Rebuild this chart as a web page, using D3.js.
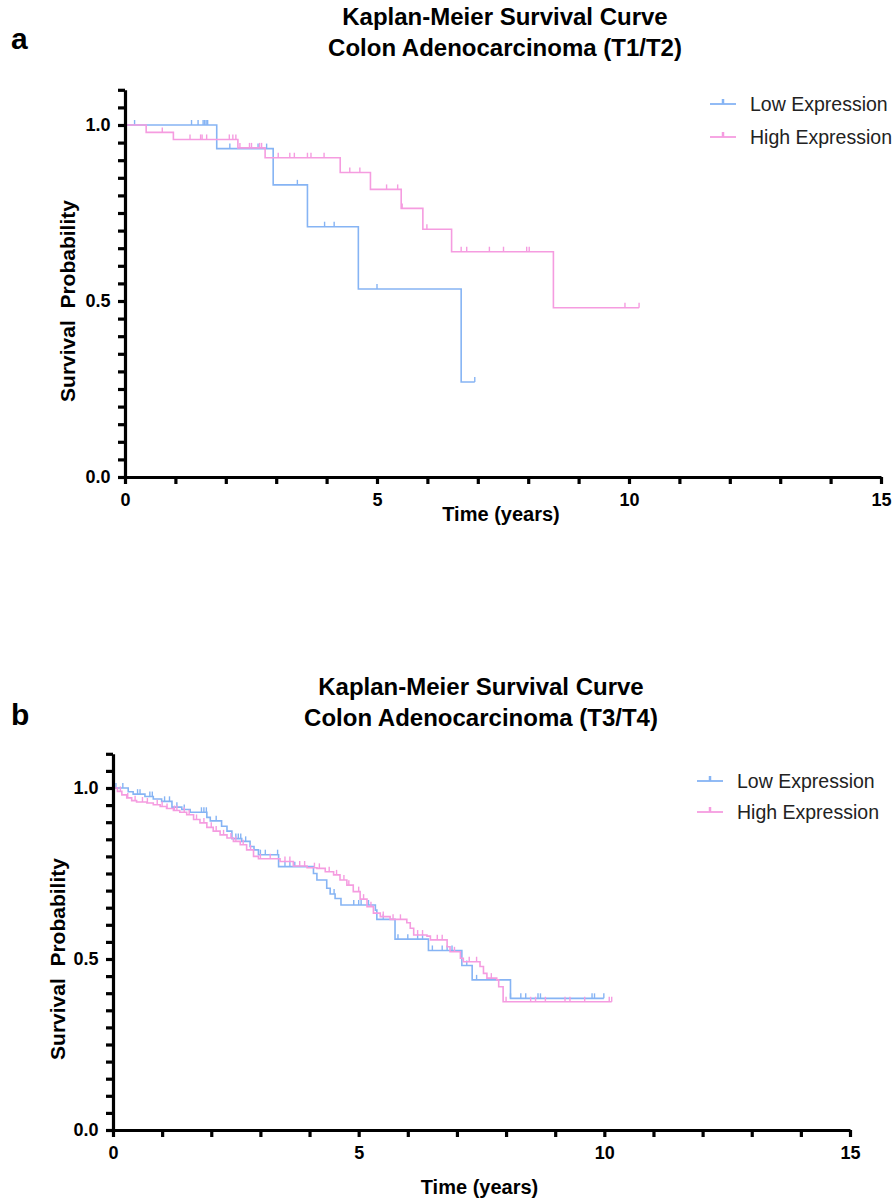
<!DOCTYPE html>
<html>
<head>
<meta charset="utf-8">
<script src="https://cdn.jsdelivr.net/npm/d3@7"></script>
<style>
  body { margin: 0; background: #fff; }
  text { font-family: "Liberation Sans", Arial, sans-serif; }
</style>
</head>
<body>
<div id="viz"></div>
<script>
// ---- data ----
// steps: [time in years, survival from that time on]
const lowStepsA = [[1.82, 0.933], [2.94, 0.83], [3.62, 0.711], [4.63, 0.534], [6.67, 0.27]];
const lowEndA = 6.94;
const lowCensorA = [0.19, 1.32, 1.45, 1.55, 1.58, 1.61, 1.64, 2.08, 2.64, 2.81, 3.42, 3.96, 4.15, 5.0, 6.94];

const highStepsA = [[0.42, 0.979], [0.96, 0.959], [2.24, 0.935], [2.78, 0.907], [4.27, 0.865],
  [4.87, 0.817], [5.48, 0.763], [5.91, 0.704], [6.48, 0.640], [8.50, 0.481]];
const highEndA = 10.2;
const highCensorA = [0.74, 1.29, 1.50, 1.53, 1.62, 2.07, 2.14, 2.20, 2.28, 2.47, 2.51, 2.67, 2.71,
  3.04, 3.27, 3.36, 3.62, 3.69, 3.95, 4.46, 4.66, 5.19, 5.41, 5.50, 5.99, 6.67, 6.78, 7.23,
  7.51, 7.97, 8.02, 9.92, 10.2];

const lowStepsB = [[0.31, 0.989], [0.41, 0.982], [0.65, 0.975], [0.82, 0.968], [0.99, 0.961],
  [1.20, 0.944], [1.40, 0.937], [1.57, 0.929], [1.91, 0.914], [1.98, 0.904], [2.21, 0.888],
  [2.32, 0.874], [2.42, 0.852], [2.62, 0.844], [2.79, 0.829], [2.87, 0.819], [2.96, 0.805],
  [3.37, 0.770], [4.08, 0.750], [4.15, 0.731], [4.35, 0.707], [4.42, 0.690], [4.52, 0.677],
  [4.64, 0.658], [5.34, 0.643], [5.37, 0.616], [5.74, 0.558], [6.42, 0.525], [7.10, 0.481],
  [7.31, 0.439], [8.09, 0.385]];
const lowEndB = 9.99;
const lowCensorB = [0.06, 0.2, 0.5, 0.55, 0.75, 0.8, 1.05, 1.15, 1.3, 1.45, 1.8, 1.85, 1.9, 2.1,
  2.5, 2.55, 2.6, 2.7, 3.0, 3.1, 3.35, 3.5, 3.6, 3.7, 4.5, 4.9, 5.0, 5.05, 5.2, 5.5, 5.8, 6.0,
  6.2, 6.3, 6.5, 6.7, 6.8, 6.9, 7.2, 7.4, 8.09, 8.3, 8.4, 8.65, 8.7, 9.75, 9.8, 9.99];

const highStepsB = [[0.09, 0.990], [0.18, 0.980], [0.28, 0.971], [0.38, 0.963], [0.48, 0.959],
  [0.69, 0.956], [0.82, 0.951], [0.96, 0.946], [1.09, 0.940], [1.23, 0.934], [1.36, 0.929],
  [1.50, 0.922], [1.64, 0.908], [1.77, 0.898], [1.91, 0.885], [2.04, 0.874], [2.18, 0.863],
  [2.32, 0.854], [2.45, 0.844], [2.59, 0.834], [2.72, 0.819], [2.86, 0.800], [2.96, 0.793],
  [3.40, 0.785], [3.67, 0.772], [3.95, 0.767], [4.15, 0.765], [4.32, 0.755], [4.49, 0.746],
  [4.62, 0.731], [4.76, 0.716], [4.89, 0.697], [5.03, 0.675], [5.17, 0.653], [5.30, 0.634],
  [5.44, 0.624], [5.64, 0.616], [5.98, 0.606], [6.05, 0.590], [6.12, 0.570], [6.39, 0.567],
  [6.46, 0.556], [6.80, 0.536], [6.86, 0.521], [7.07, 0.502], [7.13, 0.492], [7.47, 0.478],
  [7.54, 0.458], [7.61, 0.444], [7.81, 0.439], [7.85, 0.419], [7.94, 0.375]];
const highEndB = 10.15;
const highCensorB = [0.15, 0.3, 0.45, 0.6, 0.7, 0.9, 1.0, 1.1, 1.25, 1.3, 1.45, 1.55, 1.7, 1.85,
  2.0, 2.1, 2.25, 2.4, 2.5, 2.65, 2.8, 3.0, 3.2, 3.5, 3.6, 3.8, 3.9, 4.1, 4.2, 4.4, 4.55, 4.7,
  4.8, 5.0, 5.1, 5.25, 5.5, 5.7, 5.85, 6.2, 6.3, 6.6, 6.7, 6.95, 7.25, 7.4, 7.7, 8.0, 8.5, 8.6,
  8.8, 9.2, 9.3, 9.6, 10.1, 10.15];

const seriesNames = ['Low Expression', 'High Expression'];
const xTicks = d3.range(0, 16, 1);
const yTicks = d3.range(0, 23).map(i => i * 0.05);
const lowColor = '#86b4f4';
const highColor = '#f59ce0';

const svg = d3.select('#viz')
      .append('svg')
      .attr('width', 894)
      .attr('height', 1198);

function survAt(steps, t) {
    let s = 1;
    steps.forEach(d => { if (d[0] <= t) s = d[1]; });
    return s;
}

function drawPanel(p) {
    const x = d3.scaleLinear().domain([0, 15]).range([p.left, p.right]);
    const y = d3.scaleLinear().domain([0, 1.1]).range([p.bottom, p.bottom - 1.1 * p.unit]);

    // panel letter + title
    svg.append('text')
        .attr('x', 11).attr('y', p.letterY)
        .attr('font-size', 30).attr('font-weight', 'bold')
        .text(p.letter);
    p.title.forEach((t, i) => {
        svg.append('text')
            .attr('x', p.titleX).attr('y', p.titleY + i * 31)
            .attr('text-anchor', 'middle')
            .attr('font-size', 24).attr('font-weight', 'bold')
            .text(t);
    });

    const series = [
        { name: seriesNames[0], steps: p.low, end: p.lowEnd, cens: p.lowCens, color: lowColor },
        { name: seriesNames[1], steps: p.high, end: p.highEnd, cens: p.highCens, color: highColor }
    ];

    const line = d3.line()
          .x(d => x(d[0]))
          .y(d => y(d[1]))
          .curve(d3.curveStepAfter);

    series.forEach(s => {
        const pts = [[0, 1]].concat(s.steps, [[s.end, s.steps[s.steps.length - 1][1]]]);
        svg.append('path')
            .attr('d', line(pts))
            .attr('fill', 'none')
            .attr('stroke', s.color)
            .attr('stroke-width', 1.6);
        svg.append('g').selectAll('line')
            .data(s.cens)
            .join('line')
            .attr('x1', d => x(d)).attr('x2', d => x(d))
            .attr('y1', d => y(survAt(s.steps, d)))
            .attr('y2', d => y(survAt(s.steps, d)) - 5)
            .attr('stroke', s.color)
            .attr('stroke-width', 1.4);
    });

    // axes
    const xAxis = svg.append('g')
          .attr('transform', `translate(0 ${p.bottom})`)
          .call(d3.axisBottom(x).tickValues(xTicks).tickSize(7).tickSizeOuter(0)
                .tickFormat(d => d % 5 === 0 ? d : ''));
    const yAxis = svg.append('g')
          .attr('transform', `translate(${p.left} 0)`)
          .call(d3.axisLeft(y).tickValues(yTicks).tickSize(7).tickSizeOuter(0)
                .tickFormat(d => Math.abs(d * 2 - Math.round(d * 2)) < 1e-6 ? d.toFixed(1) : ''));
    [xAxis, yAxis].forEach(a => {
        a.selectAll('path, line').attr('stroke', '#000').attr('stroke-width', 3.2);
        a.selectAll('text')
            .attr('font-family', '"Liberation Sans", Arial, sans-serif')
            .attr('font-size', 18).attr('font-weight', 'bold').attr('fill', '#000');
    });
    xAxis.selectAll('text').attr('dy', '1.05em');
    yAxis.selectAll('text').attr('dx', '-0.25em');

    svg.append('text')
        .attr('x', (p.left + p.right) / 2 - 2).attr('y', p.bottom + p.xLabelGap)
        .attr('text-anchor', 'middle')
        .attr('font-size', 20).attr('font-weight', 'bold')
        .text('Time (years)');
    svg.append('text')
        .attr('transform', `translate(${p.yLabelX} ${p.bottom - 0.5 * p.unit}) rotate(-90)`)
        .attr('text-anchor', 'middle')
        .attr('font-size', 21).attr('font-weight', 'bold')
        .attr('xml:space', 'preserve')
        .style('white-space', 'pre')
        .text('Survival  Probability');

    // legend
    series.forEach((s, i) => {
        const ly = p.legendY + i * p.legendGap;
        svg.append('line')
            .attr('x1', p.legendX).attr('x2', p.legendX + 26)
            .attr('y1', ly).attr('y2', ly)
            .attr('stroke', s.color).attr('stroke-width', 1.8);
        svg.append('line')
            .attr('x1', p.legendX + 13).attr('x2', p.legendX + 13)
            .attr('y1', ly).attr('y2', ly - 5)
            .attr('stroke', s.color).attr('stroke-width', 2.5);
        svg.append('text')
            .attr('x', p.legendX + 40).attr('y', ly + 7)
            .attr('font-size', 19.5).attr('fill', '#222')
            .text(s.name);
    });
}

drawPanel({
    letter: 'a', letterY: 49,
    title: ['Kaplan-Meier Survival Curve', 'Colon Adenocarcinoma (T1/T2)'],
    titleX: 505, titleY: 25,
    left: 125, right: 881, bottom: 477, unit: 352,
    yLabelX: 75, xLabelGap: 44,
    low: lowStepsA, lowEnd: lowEndA, lowCens: lowCensorA,
    high: highStepsA, highEnd: highEndA, highCens: highCensorA,
    legendX: 710, legendY: 104, legendGap: 33
});

drawPanel({
    letter: 'b', letterY: 725,
    title: ['Kaplan-Meier Survival Curve', 'Colon Adenocarcinoma (T3/T4)'],
    titleX: 481, titleY: 695,
    left: 113, right: 850, bottom: 1130, unit: 342,
    yLabelX: 65, xLabelGap: 64,
    low: lowStepsB, lowEnd: lowEndB, lowCens: lowCensorB,
    high: highStepsB, highEnd: highEndB, highCens: highCensorB,
    legendX: 697, legendY: 781, legendGap: 31
});
</script>
</body>
</html>
